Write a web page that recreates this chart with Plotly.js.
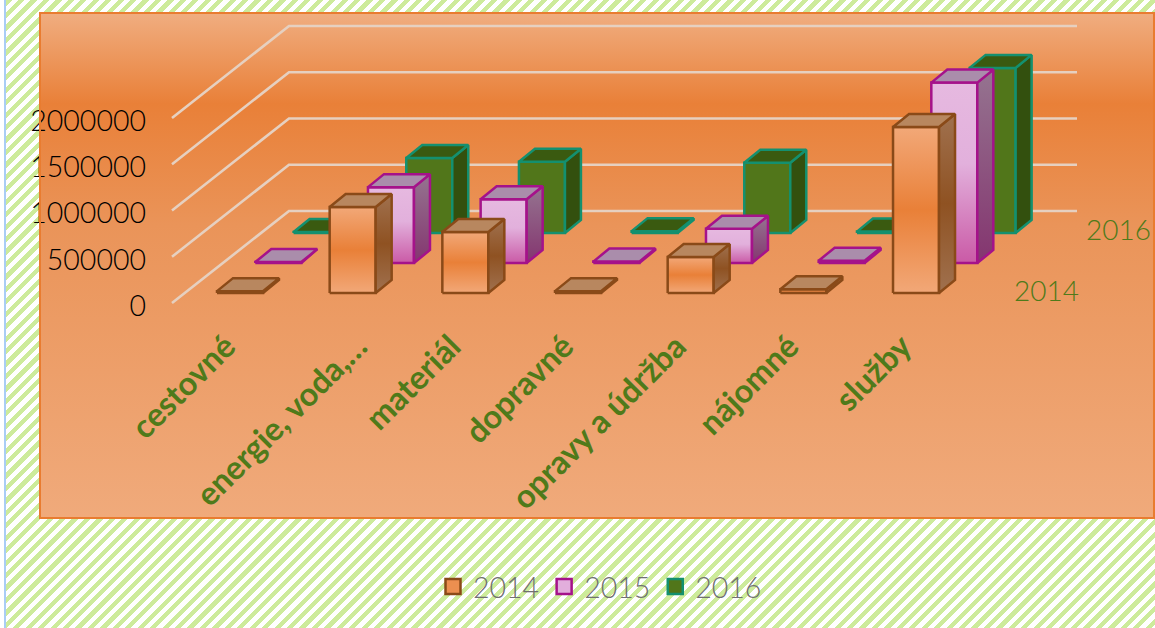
<!DOCTYPE html>
<html>
<head>
<meta charset="utf-8">
<script src="https://cdn.plot.ly/plotly-3.0.1.min.js"></script>
<style>
html,body{margin:0;padding:0;width:1155px;height:628px;overflow:hidden;background:#fff;}
body{position:relative;}
#page{position:absolute;left:6px;top:0;right:0;bottom:0;background:repeating-linear-gradient(135deg,#cdeb9b 0,#cdeb9b 4.4px,#ffffff 4.4px,#ffffff 8.8px);}
#edge{position:absolute;left:4px;top:0;width:2px;height:628px;background:#a9cdf5;}
#chart{position:absolute;left:0;top:0;width:1155px;height:628px;}
</style>
</head>
<body>
<div id="page"></div><div id="edge"></div>
<div id="chart"></div>
<script>
var categories = ['cestovné','energie, voda,…','materiál','dopravné','opravy a údržba','nájomné','služby'];
var seriesNames = ['2014','2015','2016'];
var v2014 = [20000, 930000, 660000, 20000, 390000, 40000, 1795000];
var v2015 = [10000, 820000, 690000, 15000, 370000, 25000, 1950000];
var v2016 = [10000, 810000, 770000, 20000, 760000, 15000, 1785000];
var yTicks = [0, 500000, 1000000, 1500000, 2000000];
var labelNudge = [0, 0.17, 0, 0, 0, 0, 0];

var L=40,R=1154,T=13,B=518,W=1155,H=628;
var slot=112.67, cx0=240, y0=303, pxPerUnit=46.25/500000;
function X(px){return (px-cx0)/slot;}
function Y(py){return (y0-py)/pxPerUnit;}
var dxSeries=38.3/slot, floorPx=[293,263,233];
var halfW=23/slot, boxDx=16/slot, boxDy=13/pxPerUnit;
var wallDx=117/slot, wallDy=92/pxPerUnit;

var styles = [
 {edge:'#8a4a18', front:[[0,'#f2a878'],[0.5,'#e98038'],[1,'#f2a878']], side:[[0,'#a0714f'],[0.5,'#8f5222'],[1,'#a0714f']], top:'#b8875f'},
 {edge:'#a5128a', front:[[0,'#ca5aa6'],[0.55,'#e2b0dc'],[1,'#e6b9e0']], side:[[0,'#84356f'],[1,'#957490']], top:'#aa8dab'},
 {edge:'#14906f', solid:'#51761a', sideSolid:'#33500e', top:'#3a5a10'}
];
var data=[];
function poly(xs,ys,line,fill,grad){
  var t={type:'scatter',mode:'lines',x:xs,y:ys,fill:'toself',hoverinfo:'skip',showlegend:false,
         line:{color:line,width:2.5,shape:'linear'}};
  if(grad){t.fillgradient={type:'vertical',colorscale:grad};}else{t.fillcolor=fill;}
  return t;
}
// panel
data.push(poly([X(L),X(R),X(R),X(L),X(L)],[Y(T),Y(T),Y(B),Y(B),Y(T)],'rgba(0,0,0,0)',null,
  [[0,'#f0aa7b'],[0.58,'#ea9459'],[0.82,'#e98038'],[1,'#f0ad80']]));
// gridlines
yTicks.forEach(function(v){
  data.push({type:'scatter',mode:'lines',hoverinfo:'skip',showlegend:false,
    x:[X(172),X(172)+wallDx,X(1077)],y:[v,v+wallDy,v+wallDy],
    line:{color:'#e6d0c0',width:2.6}});
});
// bars, back series first
var allSeries=[v2014,v2015,v2016];
for(var s=2;s>=0;s--){
  var st=styles[s], base=Y(floorPx[s]);
  allSeries[s].forEach(function(v,i){
    var a=i+s*dxSeries-halfW, b=i+s*dxSeries+halfW, t=base+v;
    data.push(poly([a,b,b,a,a],[base,base,t,t,base],st.edge,st.solid,st.front));
    data.push(poly([b,b+boxDx,b+boxDx,b,b],[base,base+boxDy,t+boxDy,t,base],st.edge,st.sideSolid,st.side));
    data.push(poly([a,b,b+boxDx,a+boxDx,a],[t,t,t+boxDy,t+boxDy,t],st.edge,st.top));
  });
}
// legend keys
seriesNames.forEach(function(n,s){
  var st=styles[s];
  data.push({type:'scatter',mode:'markers',x:[null],y:[null],name:n,hoverinfo:'skip',
    marker:{symbol:'square',size:15,color:st.solid||(s===0?'#ec8f50':'#e2aedc'),line:{color:st.edge,width:2.5}}});
});
var green='#4f7a1a';
var annos=[0,2].map(function(s){
  return {x:X(1046)+s*36/slot,y:Y(290-30.5*s),xref:'x',yref:'y',text:seriesNames[s],showarrow:false,
          xanchor:'center',yanchor:'middle',font:{family:'Lato, sans-serif',size:28,color:green,weight:300}};
});
var layout={
  width:W,height:H,margin:{l:L,r:W-R,t:T,b:H-B,pad:0},
  paper_bgcolor:'rgba(0,0,0,0)',plot_bgcolor:'rgba(0,0,0,0)',
  showlegend:true,
  legend:{orientation:'h',x:(600-L)/(R-L),xanchor:'center',y:(B-587)/(B-T),yanchor:'middle',
    bgcolor:'rgba(0,0,0,0)',font:{family:'Lato, sans-serif',size:28.5,color:'#707070',weight:300},itemwidth:30},
  xaxis:{range:[X(L),X(R)],tickmode:'array',tickvals:categories.map(function(c,i){return i+labelNudge[i];}),ticktext:categories,
    tickangle:-45,showgrid:false,zeroline:false,showline:false,ticks:'',anchor:'free',position:(B-320)/(B-T),
    ticklabelshift:-14,
    tickfont:{family:'Lato, sans-serif',size:32.5,color:green,weight:700},automargin:false},
  yaxis:{range:[Y(B),Y(T)],tickmode:'array',tickvals:yTicks,ticktext:yTicks.map(String),showgrid:false,zeroline:false,showline:false,ticks:'',
    anchor:'free',position:(146-L)/(R-L),ticklabelshift:3,tickfont:{family:'Lato, sans-serif',size:28.5,color:'#000',weight:300},automargin:false},
  shapes:[{type:'rect',xref:'paper',yref:'paper',x0:0,x1:1,y0:0,y1:1,line:{color:'#e97c30',width:2},fillcolor:'rgba(0,0,0,0)',layer:'above'}],
  annotations:annos
};
Plotly.newPlot('chart',data,layout,{displayModeBar:false,staticPlot:true});
</script>
</body>
</html>
